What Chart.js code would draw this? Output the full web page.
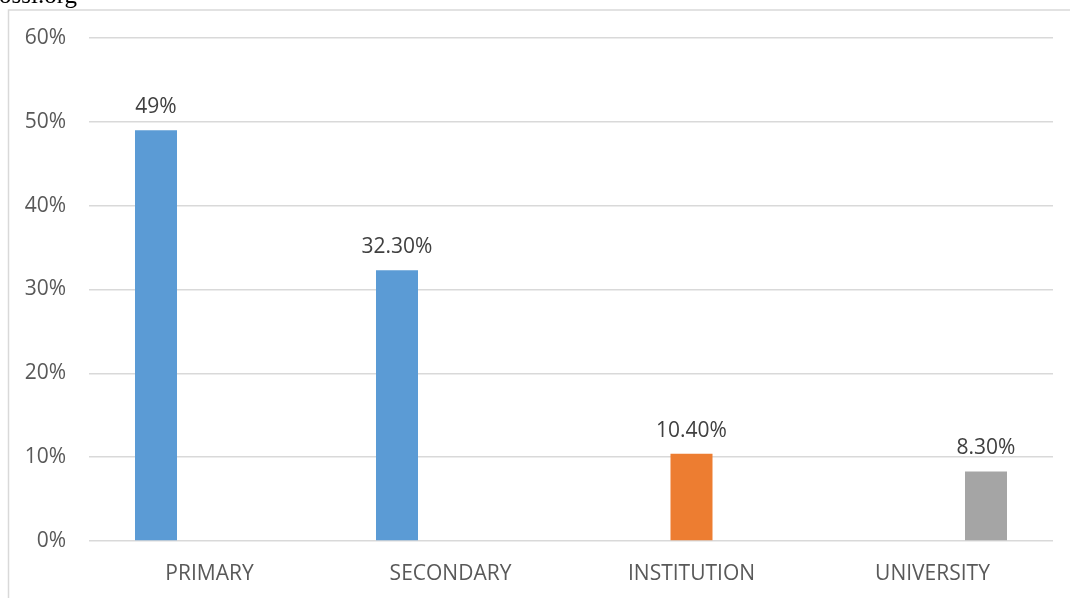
<!DOCTYPE html>
<html>
<head>
<meta charset="utf-8">
<script src="https://cdn.jsdelivr.net/npm/chart.js@4.4.1/dist/chart.umd.min.js"></script>
<style>
  html, body { margin: 0; padding: 0; background: #fff; }
  #wrap { position: relative; width: 1070px; height: 598px; }
</style>
</head>
<body>
<div id="wrap"><canvas id="levelChart" width="1070" height="598"></canvas></div>
<script>
// education levels and their shares (%)
const levels = ['PRIMARY', 'SECONDARY', 'INSTITUTION', 'UNIVERSITY'];
const schoolShare = [49, 32.3, null, null];
const institutionShare = [null, null, 10.4, null];
const universityShare = [null, null, null, 8.3];
const shareLabels = ['49%', '32.30%', '10.40%', '8.30%'];
const yTicks = [0, 10, 20, 30, 40, 50, 60];

const FONT = "'Open Sans', sans-serif";

// frame line + the cropped source text at the top left
const framePlugin = {
    id: 'frame',
    beforeDraw(chart) {
        const ctx = chart.ctx;
        ctx.save();
        ctx.fillStyle = '#fff';
        ctx.fillRect(0, 0, chart.width, chart.height);
        ctx.strokeStyle = '#d9d9d9';
        ctx.lineWidth = 1.5;
        ctx.beginPath();
        ctx.moveTo(8.5, chart.height);
        ctx.lineTo(8.5, 10);
        ctx.lineTo(chart.width, 10);
        ctx.stroke();
        ctx.fillStyle = '#000';
        ctx.font = "25px 'Liberation Serif', serif";
        ctx.textBaseline = 'alphabetic';
        ctx.fillText('ossi.org', -1, 3);
        ctx.restore();
    }
};

// value labels above each bar
const valueLabels = {
    id: 'valueLabels',
    afterDatasetsDraw(chart) {
        const ctx = chart.ctx;
        ctx.save();
        ctx.font = '21px ' + FONT;
        ctx.fillStyle = '#404040';
        ctx.textAlign = 'center';
        ctx.textBaseline = 'alphabetic';
        chart.data.datasets.forEach((ds, di) => {
            const meta = chart.getDatasetMeta(di);
            meta.data.forEach((bar, i) => {
                if (ds.data[i] == null) return;
                ctx.fillText(shareLabels[i], bar.x, bar.y - 17);
            });
        });
        ctx.restore();
    }
};

new Chart(document.getElementById('levelChart'), {
    type: 'bar',
    data: {
        labels: levels,
        datasets: [
            { data: schoolShare, backgroundColor: '#5b9bd5' },
            { data: institutionShare, backgroundColor: '#ed7d31' },
            { data: universityShare, backgroundColor: '#a5a5a5' }
        ]
    },
    options: {
        responsive: false,
        animation: false,
        categoryPercentage: 0.666,
        barPercentage: 0.785,
        layout: { padding: { top: 38, right: 17, left: 0, bottom: 0 } },
        plugins: { legend: { display: false }, tooltip: { enabled: false } },
        scales: {
            x: {
                grid: { display: false, drawTicks: false },
                border: { display: false },
                ticks: { color: '#595959', font: { family: FONT, size: 21 }, padding: 20 },
                afterFit(scale) { scale.height = 57; }
            },
            y: {
                min: 0,
                max: 60,
                afterBuildTicks(scale) { scale.ticks = yTicks.map(v => ({ value: v })); },
                grid: { color: '#d9d9d9', lineWidth: 1.5, drawTicks: false },
                border: { display: false },
                ticks: {
                    color: '#595959',
                    font: { family: FONT, size: 21 },
                    padding: 23,
                    callback: v => v + '%'
                },
                afterFit(scale) { scale.width = 89; }
            }
        }
    },
    plugins: [framePlugin, valueLabels]
});
</script>
</body>
</html>
